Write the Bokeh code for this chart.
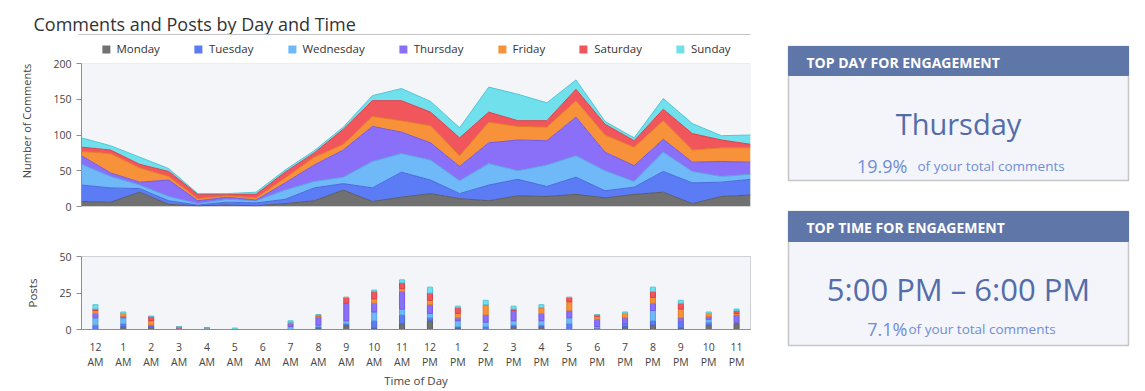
from bokeh.plotting import figure
from bokeh.models import (Range1d, ColumnDataSource, Legend, LegendItem,
                          LinearAxis, FixedTicker, BoxAnnotation)
from bokeh.layouts import row, column
from bokeh.embed import file_html
from bokeh.resources import INLINE
from bokeh.core.properties import value

# ---------------- data ----------------
hours = ["12 AM", "1 AM", "2 AM", "3 AM", "4 AM", "5 AM", "6 AM", "7 AM", "8 AM", "9 AM",
         "10 AM", "11 AM", "12 PM", "1 PM", "2 PM", "3 PM", "4 PM", "5 PM", "6 PM", "7 PM",
         "8 PM", "9 PM", "10 PM", "11 PM"]
days = ["Monday", "Tuesday", "Wednesday", "Thursday", "Friday", "Saturday", "Sunday"]

# comments per hour per day
comments_monday = [7, 6, 20, 3, 1, 2, 1, 4, 8, 23, 7, 13, 18, 11, 8, 15, 14, 17, 12, 17, 20, 4, 14, 16]
comments_tuesday = [23, 20, 5, 5, 1, 4, 4, 6, 18, 9, 19, 35, 19, 7, 22, 23, 14, 24, 10, 10, 29, 29, 20, 22]
comments_wednesday = [29, 16, 5, 6, 2, 4, 3, 13, 9, 9, 37, 26, 28, 18, 30, 12, 30, 30, 28, 8, 27, 16, 8, 7]
comments_thursday = [12, 5, 4, 23, 4, 3, 1, 10, 23, 38, 49, 30, 24, 20, 29, 43, 34, 54, 26, 22, 18, 13, 21, 17]
comments_friday = [6, 27, 20, 5, 3, 2, 3, 7, 11, 8, 14, 16, 24, 15, 29, 19, 19, 23, 24, 26, 26, 17, 19, 20]
comments_saturday = [6, 5, 5, 7, 6, 2, 5, 8, 6, 21, 22, 28, 19, 25, 14, 8, 9, 16, 15, 9, 16, 23, 11, 5]
comments_sunday = [13, 6, 10, 4, 1, 1, 3, 3, 3, 3, 7, 17, 15, 14, 35, 37, 25, 13, 4, 4, 15, 14, 6, 13]

# posts per hour per day
posts_monday = [0, 2, 2, 0, 0, 0, 0, 0, 1, 3, 1, 4, 6, 1, 0, 2, 2, 0, 1, 2, 3, 1, 3, 4]
posts_tuesday = [3, 2, 0, 0, 0, 0, 0, 0, 1, 1, 5, 6, 2, 1, 2, 1, 1, 4, 0, 2, 3, 4, 2, 1]
posts_wednesday = [5, 4, 0, 0, 0, 0, 0, 2, 1, 2, 6, 4, 3, 4, 3, 3, 3, 4, 1, 0, 7, 0, 2, 0]
posts_thursday = [3, 1, 1, 1, 1, 0, 0, 2, 6, 12, 6, 12, 6, 2, 5, 7, 5, 5, 5, 4, 5, 3, 2, 5]
posts_friday = [2, 2, 3, 1, 0, 0, 0, 1, 1, 0, 3, 2, 3, 3, 7, 0, 4, 6, 2, 3, 4, 6, 2, 1]
posts_saturday = [1, 0, 3, 0, 0, 0, 0, 0, 0, 4, 5, 4, 5, 4, 0, 1, 0, 3, 1, 0, 4, 4, 0, 2]
posts_sunday = [3, 1, 0, 0, 0, 1, 0, 1, 0, 0, 1, 2, 4, 1, 3, 2, 2, 0, 0, 1, 3, 2, 1, 1]

comments_max = 200
posts_max = 50

top_day = "Thursday"
top_day_pct = "19.9%"
top_time = "5:00 PM \u2013 6:00 PM"
top_time_pct = "7.1%"
pct_suffix = "of your total comments"
title_text = "Comments and Posts by Day and Time"
header_day = "TOP DAY FOR ENGAGEMENT"
header_time = "TOP TIME FOR ENGAGEMENT"

# ---------------- style ----------------
FONT = "Open Sans"
fill_colors = ["#717171", "#5b7cf4", "#70b9f8", "#8a6ff8", "#f7923a", "#f0565c", "#70e1ec"]
line_colors = ["#5c5c5c", "#4a68dc", "#5ca3e2", "#7459e2", "#e27b25", "#d94148", "#52c7d6"]
PLOT_BG = "#f4f5f9"
OUTLINE = "#cfd1d6"
AXIS = "#8e8e8e"
TXT = "#444444"

comments = dict(zip(days, [comments_monday, comments_tuesday, comments_wednesday,
                           comments_thursday, comments_friday, comments_saturday, comments_sunday]))
posts = dict(zip(days, [posts_monday, posts_tuesday, posts_wednesday, posts_thursday,
                        posts_friday, posts_saturday, posts_sunday]))

idx = list(range(len(hours)))
src_c = ColumnDataSource(dict(x=idx, **comments))
src_p = ColumnDataSource(dict(x=idx, **posts))

hour_num = {i: h.split(" ")[0] for i, h in enumerate(hours)}
hour_ampm = {i: h.split(" ")[1] for i, h in enumerate(hours)}

W_LEFT = 768
W_ALL = 1140
FRAME_L, FRAME_R = 81, 750
HEAD_H = 35          # title strip height
LEG_H = 28           # legend band height (inside the top frame)
CHART_H = 143        # pixel height of the 0..200 comments area

# ---------------- header strip: title and rule ----------------
p0 = figure(width=W_ALL, height=HEAD_H, x_range=Range1d(0, W_ALL), y_range=Range1d(HEAD_H, 0),
            output_backend="svg", toolbar_location=None, title=None, min_border=0,
            x_axis_location=None, y_axis_location=None)
p0.outline_line_color = None
p0.grid.visible = False
p0.background_fill_color = "white"
p0.border_fill_color = "white"
p0.text(x=[33], y=[23.5], text=[title_text], text_font=value(FONT), text_font_size="18px",
        text_color="#333333", text_align="left", text_baseline="alphabetic")
p0.line(x=[78, FRAME_R], y=[HEAD_H - 1, HEAD_H - 1], line_color="#c4c4c4", line_width=1.2)

# ---------------- top: stacked area of comments ----------------
y_top = comments_max * (CHART_H + LEG_H) / CHART_H
p1 = figure(width=W_LEFT, height=178, x_range=Range1d(0, len(hours) - 1), y_range=Range1d(0, y_top),
            output_backend="svg", toolbar_location=None, x_axis_location=None, title=None,
            min_border_left=FRAME_L, min_border_right=W_LEFT - FRAME_R,
            min_border_top=0, min_border_bottom=7)
p1.background_fill_color = "white"
p1.border_fill_color = "white"
p1.outline_line_color = None
p1.grid.visible = False

p1.add_layout(BoxAnnotation(bottom=0, top=comments_max, fill_color=PLOT_BG, fill_alpha=1,
                            line_color=OUTLINE, line_width=1, level="underlay"))

areas = p1.varea_stack(days, x="x", source=src_c, color=fill_colors)
p1.vline_stack(days, x="x", source=src_c, color=line_colors, line_width=1)

legend = Legend(items=[LegendItem(label=d, renderers=[r]) for d, r in zip(days, areas)],
                orientation="horizontal", location="top_center",
                glyph_width=10, glyph_height=10, label_standoff=6, spacing=33,
                padding=7, margin=6, label_height=14,
                label_text_font=FONT, label_text_font_size="11.5px", label_text_color="#333333",
                border_line_color=None, background_fill_alpha=0)
p1.add_layout(legend, "center")

ya = p1.yaxis[0]
ya.ticker = FixedTicker(ticks=[0, 50, 100, 150, 200])
ya.bounds = (0, comments_max)
ya.axis_label = "Number of Comments"
ya.axis_label_text_font = FONT
ya.axis_label_text_font_size = "11px"
ya.axis_label_text_font_style = "normal"
ya.axis_label_text_color = TXT
ya.axis_label_standoff = 16
ya.major_label_text_font = FONT
ya.major_label_text_font_size = "10.5px"
ya.major_label_text_color = TXT
ya.major_label_standoff = 5
ya.axis_line_color = AXIS
ya.major_tick_line_color = AXIS
ya.major_tick_out = 5
ya.major_tick_in = 0
ya.minor_tick_line_color = None

# ---------------- bottom: stacked bars of posts ----------------
p2 = figure(width=W_LEFT, height=177, x_range=Range1d(-0.5, len(hours) - 0.5),
            y_range=Range1d(0, posts_max),
            output_backend="svg", toolbar_location=None, title=None,
            min_border_left=FRAME_L, min_border_right=W_LEFT - FRAME_R,
            min_border_top=43, min_border_bottom=59)
p2.background_fill_color = PLOT_BG
p2.border_fill_color = "white"
p2.outline_line_color = OUTLINE
p2.grid.visible = False

p2.vbar_stack(days, x="x", width=0.18, source=src_p,
              fill_color=fill_colors, line_color=line_colors, line_width=1)

ya2 = p2.yaxis[0]
ya2.ticker = FixedTicker(ticks=[0, 25, 50])
ya2.axis_label = "Posts"
ya2.axis_label_text_font = FONT
ya2.axis_label_text_font_size = "11.5px"
ya2.axis_label_text_font_style = "normal"
ya2.axis_label_text_color = TXT
ya2.axis_label_standoff = 16
ya2.major_label_text_font = FONT
ya2.major_label_text_font_size = "10.5px"
ya2.major_label_text_color = TXT
ya2.major_label_standoff = 5
ya2.axis_line_color = AXIS
ya2.major_tick_line_color = AXIS
ya2.major_tick_out = 5
ya2.major_tick_in = 0
ya2.minor_tick_line_color = None

xa2 = p2.xaxis[0]
xa2.ticker = FixedTicker(ticks=idx)
xa2.major_label_overrides = hour_num
xa2.major_label_text_font = FONT
xa2.major_label_text_font_size = "10.5px"
xa2.major_label_text_color = TXT
xa2.major_label_standoff = 13
xa2.axis_line_color = AXIS
xa2.major_tick_line_color = None
xa2.major_tick_out = 0
xa2.major_tick_in = 0
xa2.minor_tick_line_color = None
xa2.minor_tick_out = 0

xb2 = LinearAxis(ticker=FixedTicker(ticks=idx), major_label_overrides=hour_ampm,
                 major_label_text_font=FONT, major_label_text_font_size="10.5px",
                 major_label_text_color=TXT, major_label_standoff=1,
                 axis_line_color=None, major_tick_line_color=None, minor_tick_line_color=None,
                 major_tick_out=0, major_tick_in=0, minor_tick_out=0,
                 axis_label="Time of Day", axis_label_text_font=FONT,
                 axis_label_text_font_size="11.5px", axis_label_text_font_style="normal",
                 axis_label_text_color=TXT, axis_label_standoff=1)
p2.add_layout(xb2, "below")

# ---------------- right: KPI panels ----------------
W_RIGHT = W_ALL - W_LEFT
p3 = figure(width=W_RIGHT, height=390 - HEAD_H, x_range=Range1d(W_LEFT, W_ALL),
            y_range=Range1d(390, HEAD_H),
            output_backend="svg", toolbar_location=None, min_border=0, title=None,
            x_axis_location=None, y_axis_location=None)
p3.outline_line_color = None
p3.grid.visible = False
p3.background_fill_color = "white"
p3.border_fill_color = "white"

HEAD = "#5f76a8"
BIG = "#536daa"
PCT = "#6f8dd6"
BODY = "#f4f5fa"
BORDER = "#c6c6c6"

panels = [
    dict(top=46, bottom=180, head=75, header=header_day, big=top_day, big_size="29px",
         big_y=123, pct=top_day_pct, pct_y=165, suffix_x=917),
    dict(top=211, bottom=345, head=241, header=header_time, big=top_time, big_size="31px",
         big_y=288, pct=top_time_pct, pct_y=328, suffix_x=908),
]
for pn in panels:
    p3.quad(left=[788], right=[1128], top=[pn["top"]], bottom=[pn["bottom"]],
            fill_color=BODY, line_color=BORDER, line_width=1.5)
    p3.quad(left=[788], right=[1128], top=[pn["top"]], bottom=[pn["head"]],
            fill_color=HEAD, line_color=HEAD, line_width=1)
    p3.text(x=[806], y=[(pn["top"] + pn["head"]) / 2 + 1], text=[pn["header"]],
            text_font=value(FONT), text_font_style="bold", text_font_size="14px",
            text_color="white", text_align="left", text_baseline="middle")
    p3.text(x=[958], y=[pn["big_y"]], text=[pn["big"]],
            text_font=value(FONT), text_font_size=pn["big_size"],
            text_color=BIG, text_align="center", text_baseline="alphabetic")
    p3.text(x=[907], y=[pn["pct_y"]], text=[pn["pct"]],
            text_font=value(FONT), text_font_size="18px",
            text_color=PCT, text_align="right", text_baseline="alphabetic")
    p3.text(x=[pn["suffix_x"]], y=[pn["pct_y"]], text=[pct_suffix],
            text_font=value(FONT), text_font_size="13.5px",
            text_color=PCT, text_align="left", text_baseline="alphabetic")

layout = column(p0, row(column(p1, p2), p3))

open("out.html", "w").write(file_html(layout, INLINE))
